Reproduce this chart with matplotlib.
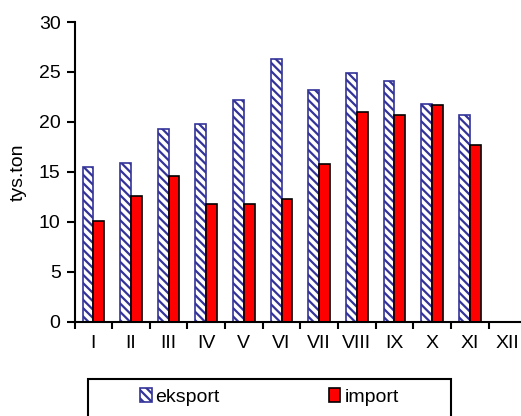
import numpy as np
import matplotlib
matplotlib.use("Agg")
import matplotlib.pyplot as plt
from matplotlib.patches import Rectangle

plt.rcParams['font.family'] = ['Liberation Sans', 'DejaVu Sans']
plt.rcParams['hatch.linewidth'] = 1.6
plt.rcParams['hatch.color'] = '#333399'

months = ["I", "II", "III", "IV", "V", "VI", "VII", "VIII", "IX", "X", "XI", "XII"]
eksport = [15.5, 15.9, 19.3, 19.8, 22.2, 26.3, 23.2, 24.9, 24.1, 21.8, 20.7]
imprt = [10.1, 12.6, 14.6, 11.8, 11.8, 12.3, 15.8, 21.0, 20.7, 21.7, 17.7]

fs = 14
fig = plt.figure(figsize=(5.21, 4.16), dpi=100)
ax = fig.add_axes([0.143, 0.227, 0.867, 0.72])

w = 1 / 3.5
x = np.arange(len(eksport))
ax.bar(x - w / 2, eksport, w, color='white', edgecolor='#333399', hatch='\\\\\\\\',
       linewidth=1.2, label='eksport')
ax.bar(x + w / 2, imprt, w, color='#ff0000', edgecolor='black', linewidth=1.2,
       label='import')

ax.set_xlim(-0.5, len(months) - 0.5)
ax.set_ylim(0, 30)
ax.set_yticks(range(0, 31, 5))
ax.set_xticks(range(len(months)))
ax.set_xticklabels(months)
ax.set_xticks(np.arange(-0.5, len(months), 1), minor=True)
ax.tick_params(axis='x', which='major', length=0, pad=10, labelsize=fs)
ax.tick_params(axis='x', which='minor', length=5, width=1.5, direction='out')
ax.tick_params(axis='y', length=6, width=1.5, labelsize=fs, pad=4)
ax.set_ylabel('tys.ton', fontsize=fs)
ax.yaxis.set_label_coords(-0.105, 0.5)

for s in ['top', 'right']:
    ax.spines[s].set_visible(False)
for s in ['left', 'bottom']:
    ax.spines[s].set_linewidth(1.5)

# legend frame, runs off the bottom of the picture
fig.patches.append(Rectangle((88 / 521, -0.05), 363 / 521, 0.05 + 37 / 416,
                             transform=fig.transFigure, facecolor='none',
                             edgecolor='black', linewidth=1.5))
fig.legend(loc='center left', bbox_to_anchor=(140 / 521, 1 - 397 / 416), ncol=2,
           fontsize=fs, frameon=False, borderpad=0, borderaxespad=0,
           handlelength=0.6, handleheight=0.7, handletextpad=0.2,
           columnspacing=5.6)

fig.savefig('out.png', dpi=100)
